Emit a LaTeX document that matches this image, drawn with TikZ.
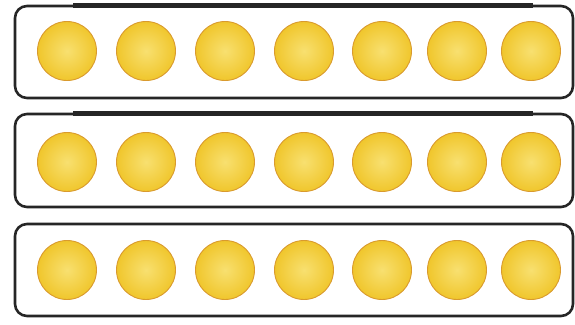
\documentclass[tikz,border=0pt]{standalone}
\definecolor{beadin}{HTML}{F8E070}
\definecolor{beadout}{HTML}{F0C62C}
\definecolor{beadedge}{HTML}{D99A2E}
\definecolor{framec}{HTML}{262626}
\begin{document}
\begin{tikzpicture}[x=1pt,y=-1pt,
  frame/.style={draw=framec, line width=2.6pt, rounded corners=12pt},
  bar/.style={draw=framec, line width=4.5pt},
  bead/.style={circle, minimum size=59pt, inner sep=0pt, draw=beadedge, line width=0.9pt,
     inner color=beadin, outer color=beadout},
]
\useasboundingbox (0,0) rectangle (575,324);
\foreach \r/\top/\bot/\cy in {1/6/98/51, 2/114/207/162, 3/224/316/270}{
  \draw[frame] (15,\top) rectangle (573,\bot);
  \foreach \i/\cx in {1/67,2/146,3/225,4/304,5/382,6/457,7/531}{
    \node[bead] (b\r\i) at (\cx,\cy) {};
  }
}
\draw[bar] (73,5.5) -- (533,5.5);
\draw[bar] (73,113.5) -- (533,113.5);
\end{tikzpicture}
\end{document}
